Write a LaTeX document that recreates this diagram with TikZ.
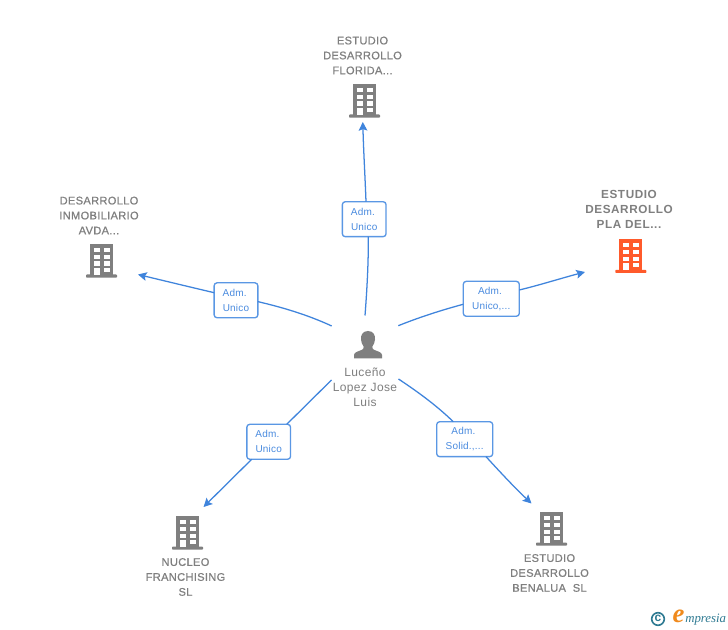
\documentclass[tikz,border=0pt]{standalone}
\usepackage{fontspec}
\setmainfont{Liberation Sans}
\newfontfamily\lblfont[LetterSpace=3,FakeBold=0.6]{Liberation Sans}
\newfontfamily\hifont[LetterSpace=5]{Liberation Sans}
\newfontfamily\perfont[LetterSpace=3]{Liberation Sans}
\newfontfamily\rolefont[LetterSpace=2]{Liberation Sans}
\newfontfamily\logofont{Liberation Serif}
\usetikzlibrary{arrows.meta}
\definecolor{edgeblue}{HTML}{3F84DC}
\definecolor{boxblue}{HTML}{5A97E4}
\definecolor{roletext}{HTML}{4A8BDF}
\definecolor{txtgrey}{HTML}{7F7F7F}
\definecolor{iconorange}{HTML}{FF5A2B}
\definecolor{logoteal}{HTML}{2E7A92}
\definecolor{logoorange}{HTML}{F08A1D}
\tikzset{
  x=0.75pt,y=-0.75pt,
  edge/.style={edgeblue,line width=0.95pt},
  arrowedge/.style={edge,-{Stealth[length=6.5pt,width=6.5pt,inset=1.2pt]}},
  rolebox/.style={draw=boxblue,line width=1pt,fill=white,rounded corners=2.2pt,align=center,outer sep=0pt,
    text=roletext,font=\rolefont\fontsize{7.5pt}{11.2pt}\selectfont,inner sep=0pt,minimum height=26.2pt},
  company/.style={align=center,text=txtgrey,font=\lblfont\fontsize{8.3pt}{11.2pt}\selectfont,inner sep=0pt},
  companyhi/.style={align=center,text=txtgrey,font=\hifont\bfseries\fontsize{8.8pt}{11.2pt}\selectfont,inner sep=0pt},
  personlabel/.style={align=center,text=txtgrey,font=\perfont\fontsize{9pt}{11.2pt}\selectfont,inner sep=0pt},
  pics/bldg/.style={code={
    \fill[#1] (-11.5,0) rectangle (11.5,33);
    \fill[#1,rounded corners=0.6pt] (-15.5,30.5) rectangle (15.5,33.7);
    \foreach \yy in {4,11,17.5}{
      \fill[white] (-7.7,\yy) rectangle (-1.7,\yy+4.2);
      \fill[white] (2.3,\yy) rectangle (8.3,\yy+4.2);
    }
    \fill[white] (-7.7,24) rectangle (-1.7,31);
    \fill[white] (2.3,24) rectangle (8.3,28.2);
  }},
}
\begin{document}
\begin{tikzpicture}
\useasboundingbox (0,0) rectangle (728,630);
\fill[white] (0,0) rectangle (728,630);

% person icon
\fill[txtgrey] (368,331) .. controls (362.5,331) and (360.5,335.5) .. (361,339.5)
  .. controls (361.3,342.5) and (362.2,344.5) .. (363.6,346.5)
  .. controls (363.8,348) and (363.5,349) .. (362,349.8)
  .. controls (358,351.5) and (354.5,352) .. (354,355) -- (354,358.5) -- (382,358.5) -- (382,355)
  .. controls (381.5,352) and (378,351.5) .. (374,349.8)
  .. controls (372.5,349) and (372.2,348) .. (372.4,346.5)
  .. controls (373.8,344.5) and (374.7,342.5) .. (375,339.5)
  .. controls (375.5,335.5) and (373.5,331) .. (368,331) -- cycle;
\node[personlabel] (person) at (365,387) {Luceño\\Lopez Jose\\Luis};

% free ends of the connectors
\coordinate (sT) at (365,315.5);
\coordinate (eT) at (362.8,122);
\coordinate (sL) at (331.7,326);
\coordinate (eL) at (138,274.5);
\coordinate (sR) at (398.3,325.7);
\coordinate (eR) at (585,272);
\coordinate (sA) at (331.5,380);
\coordinate (eA) at (203.5,507);
\coordinate (sB) at (398.5,379);
\coordinate (eB) at (531.5,503.5);

% role boxes
\node[rolebox,minimum width=32.8pt] (rT) at (364.2,219.2) {Adm.\hspace*{2pt}\\Unico};
\node[rolebox,minimum width=32.8pt] (rL) at (236,300.3) {Adm.\hspace*{2pt}\\Unico};
\node[rolebox,minimum width=42pt] (rR) at (491.3,298.8) {Adm.\hspace*{2pt}\\Unico,...};
\node[rolebox,minimum width=32.8pt] (rA) at (268.7,441.8) {Adm.\hspace*{2pt}\\Unico};
\node[rolebox,minimum width=42pt] (rB) at (464.7,439.2) {Adm.\hspace*{2pt}\\Solid.,...};

% connectors
\draw[edge] (sT) .. controls (367,290) and (368.5,262) .. ([xshift=3.1pt]rT.south);
\draw[arrowedge] ([xshift=1.35pt]rT.north) .. controls (365,175) and (363.5,150) .. (eT);
\draw[edge] (sL) .. controls (308,315) and (283,307.5) .. ([yshift=-1pt]rL.east);
\draw[arrowedge] ([yshift=5.7pt]rL.west) .. controls (190,287) and (165,281) .. (eL);
\draw[edge] (sR) .. controls (420,317) and (442,310) .. ([yshift=-4.1pt]rR.west);
\draw[arrowedge] ([yshift=6.6pt]rR.east) .. controls (540,285) and (562,278) .. (eR);
\draw[edge] (sA) -- ([xshift=13.5pt]rA.north);
\draw[arrowedge] ([xshift=-12.75pt]rA.south) -- (eA);
\draw[edge] (sB) .. controls (418,392) and (436,405) .. ([xshift=-8.55pt]rB.north);
\draw[arrowedge] ([xshift=16pt]rB.south) .. controls (500,472) and (515,488) .. (eB);

% companies
\node[company] (cT) at (362.5,55.5) {ESTUDIO\\DESARROLLO\\FLORIDA...};
\pic at (364.5,84) {bldg=txtgrey};
\node[company] (cL) at (99,215.5) {DESARROLLO\\INMOBILIARIO\\AVDA...};
\pic at (101.5,244) {bldg=txtgrey};
\node[companyhi] (cR) at (629,209.5) {ESTUDIO\\DESARROLLO\\PLA DEL...};
\pic at (630.8,239.3) {bldg=iconorange};
\node[company] (cA) at (185.5,577) {NUCLEO\\FRANCHISING\\SL};
\pic at (187.5,516) {bldg=txtgrey};
\node[company] (cB) at (549.5,573) {ESTUDIO\\DESARROLLO\\BENALUA\ \ SL};
\pic at (551.5,512) {bldg=txtgrey};

% logo
\draw[logoteal,line width=1.2pt] (658,619) circle (6.3);
\node[text=logoteal,font=\bfseries\fontsize{9pt}{9pt}\selectfont,inner sep=0pt] (logoc) at (658,618.5) {c};
\node[text=logoorange,font=\logofont\bfseries\itshape\fontsize{20pt}{20pt}\selectfont,inner sep=0pt] (logoe) at (678.5,616) {e};
\node[text=logoteal,font=\logofont\itshape\fontsize{9.6pt}{10pt}\selectfont,inner sep=0pt,anchor=west] (logot) at (685,619.5) {mpresia};
\end{tikzpicture}
\end{document}
